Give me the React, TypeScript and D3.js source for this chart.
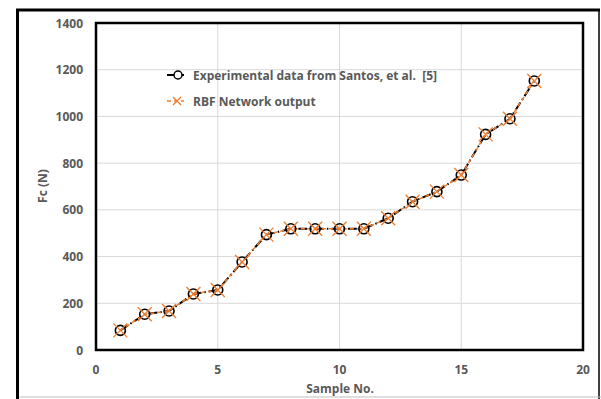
import React from "react";
import * as d3 from "d3";

// Cutting force per sample
const sampleNo = [1, 2, 3, 4, 5, 6, 7, 8, 9, 10, 11, 12, 13, 14, 15, 16, 17, 18];
const experimental = [84, 153, 167, 240, 257, 377, 494, 519, 519, 519, 519, 564, 635, 678, 749, 923, 990, 1152];
const rbfOutput = [84, 153, 167, 240, 257, 377, 494, 519, 519, 519, 519, 564, 635, 678, 749, 923, 990, 1152];
const xTicks = [0, 5, 10, 15, 20];
const yTicks = [0, 200, 400, 600, 800, 1000, 1200, 1400];
const legendLabels = ["Experimental data from Santos, et al.  [5]", "RBF Network output"];

const W = 601;
const H = 399;
const plot = { left: 96, right: 583, top: 23, bottom: 350 };
const FONT = "'Open Sans', 'Noto Sans', sans-serif";
const TEXT = "#595959";
const ORANGE = "#ED7D31";

export default function App() {
  const x = d3.scaleLinear().domain([0, 20]).range([plot.left, plot.right]);
  const y = d3.scaleLinear().domain([0, 1400]).range([plot.bottom, plot.top]);

  const lineExp = d3
    .line<number>()
    .x((_, i) => x(sampleNo[i]))
    .y((d) => y(d));

  const xMark = (cx: number, cy: number, s: number) =>
    `M${cx - s},${cy - s}L${cx + s},${cy + s}M${cx - s},${cy + s}L${cx + s},${cy - s}`;

  return (
    <svg
      width={W}
      height={H}
      style={{ position: "absolute", left: 0, top: 0, background: "#fff" }}
      fontFamily={FONT}
    >
      {/* outer frame */}
      <rect x={0} y={0} width={W} height={H} fill="#fff" />
      <line x1={599} y1={10} x2={599} y2={399} stroke="#000" strokeWidth={1.5} />
      <line x1={17} y1={397} x2={601} y2={397} stroke="#bfbfbf" strokeWidth={1} />
      <line x1={17.5} y1={9} x2={17.5} y2={399} stroke="#000" strokeWidth={3} />
      <line x1={16} y1={10} x2={600} y2={10} stroke="#000" strokeWidth={3} />

      {/* gridlines */}
      {yTicks.map((t) => (
        <line key={"gy" + t} x1={plot.left} x2={plot.right} y1={y(t)} y2={y(t)} stroke="#d9d9d9" strokeWidth={1} />
      ))}
      {xTicks.map((t) => (
        <line key={"gx" + t} x1={x(t)} x2={x(t)} y1={plot.top} y2={plot.bottom} stroke="#d9d9d9" strokeWidth={1} />
      ))}

      {/* series lines */}
      <path
        d={lineExp(experimental) || ""}
        fill="none"
        stroke="#000"
        strokeWidth={2}
        strokeDasharray="9,3,1.5,3"
      />
      <path
        d={lineExp(rbfOutput) || ""}
        fill="none"
        stroke={ORANGE}
        strokeWidth={1.5}
        strokeDasharray="4,3"
      />

      {/* markers */}
      {experimental.map((v, i) => (
        <circle key={"c" + i} cx={x(sampleNo[i])} cy={y(v)} r={5} fill="none" stroke="#000" strokeWidth={1.6} />
      ))}
      {rbfOutput.map((v, i) => (
        <path key={"x" + i} d={xMark(x(sampleNo[i]), y(v), 7)} stroke={ORANGE} strokeWidth={1.3} fill="none" />
      ))}

      {/* plot border */}
      <rect
        x={plot.left}
        y={plot.top}
        width={plot.right - plot.left}
        height={plot.bottom - plot.top}
        fill="none"
        stroke="#000"
        strokeWidth={2.5}
      />

      {/* y tick labels */}
      {yTicks.map((t) => (
        <text key={"ty" + t} x={83} y={y(t) + 4.5} textAnchor="end" fontSize={12} fontWeight="bold" fill={TEXT}>
          {t}
        </text>
      ))}
      {/* x tick labels */}
      {xTicks.map((t) => (
        <text key={"tx" + t} x={x(t)} y={374} textAnchor="middle" fontSize={12} fontWeight="bold" fill={TEXT}>
          {t}
        </text>
      ))}

      {/* axis titles */}
      <text x={340} y={393} textAnchor="middle" fontSize={12} fontWeight="bold" fill={TEXT}>
        Sample No.
      </text>
      <text
        transform={`translate(47,186) rotate(-90)`}
        textAnchor="middle"
        fontSize={12}
        fontWeight="bold"
        fill={TEXT}
      >
        Fc (N)
      </text>

      {/* legend */}
      <g>
        <line x1={167} x2={184} y1={75} y2={75} stroke="#000" strokeWidth={2} />
        <circle cx={178} cy={75} r={4} fill="#fff" stroke="#000" strokeWidth={1.5} />
        <text x={193} y={79.5} fontSize={12} fontWeight="bold" fill={TEXT} style={{ whiteSpace: "pre" }}>
          {legendLabels[0]}
        </text>
        <line x1={167} x2={184} y1={101} y2={101} stroke={ORANGE} strokeWidth={1.5} strokeDasharray="4,3" />
        <path d={xMark(177, 101, 4)} stroke={ORANGE} strokeWidth={1.3} fill="none" />
        <text x={193} y={105.5} fontSize={12} fontWeight="bold" fill={TEXT}>
          {legendLabels[1]}
        </text>
      </g>
    </svg>
  );
}
